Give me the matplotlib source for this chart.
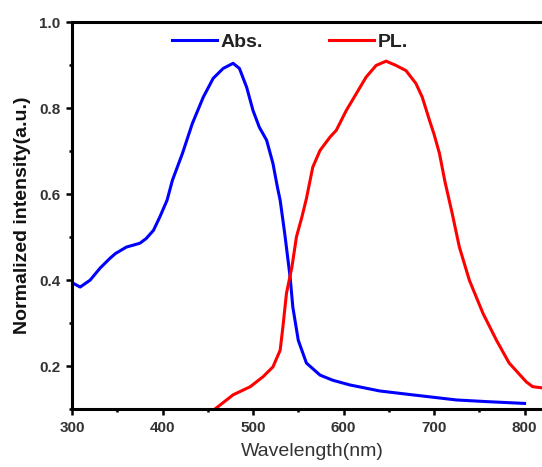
import matplotlib
matplotlib.use("Agg")
import matplotlib.pyplot as plt
from matplotlib.ticker import MultipleLocator

# Absorption spectrum (normalized)
abs_wl = [300, 302, 309, 320, 331, 342, 348, 360, 375, 382, 390, 397, 405, 411, 422,
          433, 445, 456, 467, 478, 485, 493, 500, 507, 515, 522, 527, 530, 535, 541,
          544, 550, 559, 574, 588, 607, 640, 676, 725, 760, 800]
abs_int = [0.393, 0.392, 0.384, 0.400, 0.428, 0.451, 0.462, 0.477, 0.486, 0.497, 0.516,
           0.547, 0.586, 0.633, 0.695, 0.765, 0.826, 0.870, 0.893, 0.905, 0.893, 0.849,
           0.795, 0.756, 0.726, 0.672, 0.616, 0.586, 0.509, 0.407, 0.337, 0.260, 0.207,
           0.179, 0.167, 0.156, 0.142, 0.133, 0.121, 0.117, 0.113]

# Photoluminescence spectrum (normalized)
pl_wl = [458, 478, 497, 511, 522, 530, 533, 537, 543, 548, 554, 559, 566, 574, 585,
         592, 603, 614, 625, 636, 647, 658, 669, 680, 687, 695, 700, 706, 712, 720, 728,
         739, 754, 769, 783, 802, 809, 820]
pl_int = [0.100, 0.133, 0.152, 0.175, 0.198, 0.237, 0.291, 0.370, 0.431, 0.501, 0.547,
          0.590, 0.663, 0.702, 0.733, 0.749, 0.795, 0.834, 0.873, 0.900, 0.910, 0.900,
          0.888, 0.858, 0.826, 0.772, 0.740, 0.695, 0.630, 0.556, 0.477, 0.400, 0.323,
          0.260, 0.207, 0.163, 0.152, 0.149]

plt.rcParams['font.family'] = ['Liberation Sans', 'DejaVu Sans']

fig = plt.figure(figsize=(5.42, 4.67), dpi=100)
ax = fig.add_axes([72 / 542, 58 / 467, 479.7 / 542, 386.5 / 467])

ax.plot(abs_wl, abs_int, color='#0000ff', lw=2.2, label='Abs.')
ax.plot(pl_wl, pl_int, color='#ff0000', lw=2.2, label='PL.')

ax.set_xlim(300, 830)
ax.set_ylim(0.1, 1.0)
ax.xaxis.set_major_locator(MultipleLocator(100))
ax.xaxis.set_minor_locator(MultipleLocator(50))
ax.yaxis.set_major_locator(MultipleLocator(0.2))
ax.yaxis.set_minor_locator(MultipleLocator(0.1))
ax.set_xticks([300, 400, 500, 600, 700, 800])
ax.set_yticks([0.2, 0.4, 0.6, 0.8, 1.0])

for s in ['left', 'bottom', 'top']:
    ax.spines[s].set_linewidth(2.2)
ax.spines['right'].set_visible(False)

ax.tick_params(which='major', direction='out', length=4.5, width=1.8,
               labelsize=11, labelcolor='#333333', pad=4)
ax.tick_params(which='minor', direction='out', length=2.5, width=1.8)
ax.tick_params(top=False, which='both')
for lab in ax.get_xticklabels() + ax.get_yticklabels():
    lab.set_fontweight('bold')

ax.set_xlabel('Wavelength(nm)', fontsize=14, color='#333333', labelpad=6)
ax.set_ylabel('Normalized intensity(a.u.)', fontsize=14, fontweight='bold',
              color='#111111', labelpad=6)

leg = ax.legend(loc='center', bbox_to_anchor=(0.454, 0.95), ncol=2, frameon=False,
                handlelength=2.3, handletextpad=0.2, columnspacing=3.4,
                prop={'size': 14, 'weight': 'bold'})
for t in leg.get_texts():
    t.set_color('#222222')

fig.savefig('out.png', dpi=100)
